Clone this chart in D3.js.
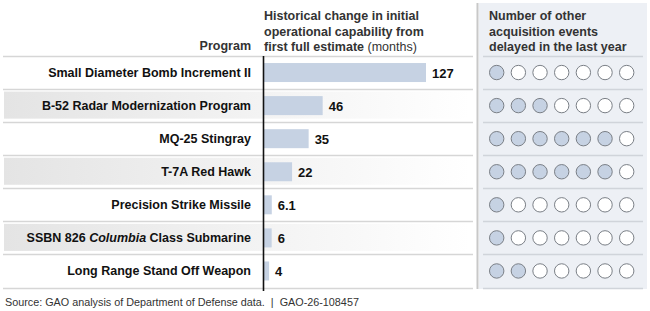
<!DOCTYPE html>
<html><head><meta charset="utf-8">
<script src="https://cdn.jsdelivr.net/npm/d3@7"></script>
<style>
html,body{margin:0;padding:0;background:#fff;}
svg{display:block;font-family:"Liberation Sans",Arial,sans-serif;}
</style></head>
<body><svg id="c" width="650" height="311"></svg>
<script>
const programs = ["Small Diameter Bomb Increment II","B-52 Radar Modernization Program","MQ-25 Stingray","T-7A Red Hawk","Precision Strike Missile","SSBN 826 Columbia Class Submarine","Long Range Stand Off Weapon"];
const monthsChange = [127, 46, 35, 22, 6.1, 6, 4];
const valueLabels = ["127","46","35","22","6.1","6","4"];
const delayedEvents = [1, 3, 6, 6, 1, 1, 2];
const maxEvents = 7;

const svg = d3.select("#c");
const y = d3.scaleBand().domain(programs).range([56, 287.5]);
const x = d3.scaleLinear().domain([0, 127]).range([264, 426]);
const cx = d3.scalePoint().domain(d3.range(maxEvents)).range([496.7, 626.7]);

const defs = svg.append("defs");
const g = defs.append("linearGradient").attr("id","band").attr("x1","0").attr("x2","1");
g.append("stop").attr("offset","0").attr("stop-color","#e4e4e4");
g.append("stop").attr("offset","0.55").attr("stop-color","#f3f3f3");
g.append("stop").attr("offset","1").attr("stop-color","#ffffff");

// right panel
svg.append("rect").attr("x",479).attr("y",3).attr("width",168).attr("height",286).attr("fill","#edf0f5");
svg.append("line").attr("x1",477.5).attr("x2",477.5).attr("y1",3).attr("y2",289).attr("stroke","#c8c8c8").attr("stroke-width",2);

// alternating bands
svg.selectAll("rect.band").data(programs.filter((d,i)=>i%2===1)).enter().append("rect")
  .attr("x",4).attr("y",d=>y(d)+2.5).attr("width",466).attr("height",y.bandwidth()-6)
  .attr("fill","url(#band)");

// separators
const seps = [56].concat(programs.map(d=>y(d)+y.bandwidth()));
svg.selectAll("line.sepL").data(seps).enter().append("line")
  .attr("x1",3).attr("x2",473).attr("y1",d=>Math.round(d)+0.5).attr("y2",d=>Math.round(d)+0.5)
  .attr("stroke","#d6d6d6").attr("stroke-width",1.5);
svg.selectAll("line.sepR").data(seps).enter().append("line")
  .attr("x1",483).attr("x2",643).attr("y1",d=>Math.round(d)+0.5).attr("y2",d=>Math.round(d)+0.5)
  .attr("stroke","#d0d4da").attr("stroke-width",1.5);

// headers
svg.append("text").attr("x",251).attr("y",50).attr("text-anchor","end")
  .attr("font-size",12.5).attr("font-weight","bold").attr("fill","#333").text("Program");
const h1 = svg.append("text").attr("x",264).attr("font-size",12.5).attr("fill","#333");
h1.append("tspan").attr("x",264).attr("y",20).attr("font-weight","bold").text("Historical change in initial");
h1.append("tspan").attr("x",264).attr("y",35.5).attr("font-weight","bold").text("operational capability from");
const t3 = h1.append("tspan").attr("x",264).attr("y",51);
t3.append("tspan").attr("font-weight","bold").text("first full estimate");
t3.append("tspan").text(" (months)");
const h2 = svg.append("text").attr("font-size",12.5).attr("font-weight","bold").attr("fill","#333");
["Number of other","acquisition events","delayed in the last year"].forEach((s,i)=>
  h2.append("tspan").attr("x",489).attr("y",20+i*15.5).text(s));

// program labels
svg.selectAll("text.prog").data(programs).enter().append("text")
  .attr("x",251).attr("y",d=>y(d)+y.bandwidth()/2+4.5).attr("text-anchor","end")
  .attr("font-size",12.5).attr("font-weight","bold").attr("fill","#111")
  .each(function(d){
    const t = d3.select(this);
    if (d.includes("Columbia")) {
      const parts = d.split("Columbia");
      t.append("tspan").text(parts[0]);
      t.append("tspan").attr("font-style","italic").text("Columbia");
      t.append("tspan").text(parts[1]);
    } else t.text(d);
  });

// bars
svg.selectAll("rect.bar").data(programs).enter().append("rect")
  .attr("x",x(0)).attr("y",d=>y(d)+y.bandwidth()/2-9.5)
  .attr("width",(d,i)=>x(monthsChange[i])-x(0)).attr("height",19)
  .attr("fill","#c6d2e3");
svg.selectAll("text.val").data(programs).enter().append("text")
  .attr("x",(d,i)=>x(monthsChange[i])+6).attr("y",d=>y(d)+y.bandwidth()/2+5)
  .attr("font-size",13).attr("font-weight","bold").attr("fill","#111")
  .text((d,i)=>valueLabels[i]);

// axis line
svg.append("line").attr("x1",263.5).attr("x2",263.5).attr("y1",56).attr("y2",291)
  .attr("stroke","#111").attr("stroke-width",1.6);

// circles
programs.forEach((p,i)=>{
  svg.selectAll(null).data(d3.range(maxEvents)).enter().append("circle")
    .attr("cx",k=>cx(k)).attr("cy",y(p)+y.bandwidth()/2)
    .attr("r",7.2)
    .attr("fill",k=>k<delayedEvents[i]?"#c6d2e3":"#ffffff")
    .attr("stroke","#7a7f86").attr("stroke-width",1);
});

// footer
svg.append("text").attr("x",5).attr("y",306).attr("font-size",10.8).attr("fill","#333")
  .style("white-space","pre")
  .text("Source: GAO analysis of Department of Defense data.  |  GAO-26-108457");
</script></body></html>
